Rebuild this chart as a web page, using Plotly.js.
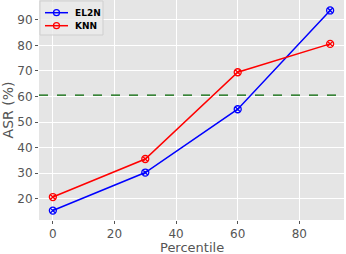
<!DOCTYPE html>
<html><head><meta charset="utf-8">
<script src="https://cdn.plot.ly/plotly-3.0.1.min.js"></script>
<style>html,body{margin:0;padding:0;background:#fff}#c{width:346px;height:254px}</style>
</head><body><div id="c"></div>
<script>
const percentiles = [0, 30, 60, 90];
const el2n = [15.3, 30.2, 55.0, 93.7];
const knn = [20.6, 35.5, 69.5, 80.6];
const threshold = 60.5;
const xTicks = [0, 20, 40, 60, 80];
const yTicks = [20, 30, 40, 50, 60, 70, 80, 90];
const seriesNames = ['EL2N', 'KNN'];
const seriesColors = ['blue', 'red'];

const W = 346, H = 254, ML = 39, MR = 2, MT = 0, MB = 34;
const PW = W - ML - MR, PH = H - MT - MB;
const px = v => (v - ML) / PW;
const py = v => 1 - (v - MT) / PH;

const traces = [el2n, knn].map((ys, i) => ({
  x: percentiles, y: ys, name: seriesNames[i], mode: 'lines+markers',
  line: {color: seriesColors[i], width: 1.5},
  marker: {symbol: 'circle-x-open', size: 7, color: seriesColors[i], line: {width: 1.3}}
}));

const shapes = [{type: 'line', xref: 'paper', x0: 0, x1: 1, yref: 'y', y0: threshold, y1: threshold,
                 line: {color: 'darkgreen', width: 1.2, dash: 'dash'}},
                {type: 'rect', xref: 'paper', yref: 'paper', x0: px(40), x1: px(103), y0: py(1), y1: py(35),
                 fillcolor: 'rgba(235,235,235,0.8)', line: {color: '#cfcfcf', width: 1}}];
const annotations = [{xref: 'paper', yref: 'paper', x: 0.5, y: py(247.5), xanchor: 'center', yanchor: 'middle',
                      text: 'Percentile', showarrow: false, font: {size: 13, color: '#555'}}];
seriesNames.forEach((n, i) => {
  const yy = 12.7 + i * 13;
  shapes.push({type: 'line', xref: 'paper', yref: 'paper', x0: px(45), x1: px(68), y0: py(yy), y1: py(yy),
               line: {color: seriesColors[i], width: 1.5}});
  shapes.push({type: 'circle', xref: 'paper', yref: 'paper', x0: px(53.5), x1: px(59.5), y0: py(yy - 3), y1: py(yy + 3),
               line: {color: seriesColors[i], width: 1.2}});
  annotations.push({xref: 'paper', yref: 'paper', x: px(73), y: py(yy), xanchor: 'left', yanchor: 'middle',
                    text: '<b>' + n + '</b>', showarrow: false, font: {size: 9, color: '#000'}});
});

const layout = {
  width: W, height: H,
  margin: {l: ML, r: MR, t: MT, b: MB},
  paper_bgcolor: '#fff', plot_bgcolor: '#E5E5E5',
  font: {family: 'DejaVu Sans', color: '#555', size: 12},
  xaxis: {range: [-4.5, 94.5], tickvals: xTicks, ticks: 'outside', ticklen: 3, tickcolor: '#555',
          gridcolor: '#fff', gridwidth: 1, zeroline: false, showline: false, automargin: false},
  yaxis: {range: [11.6, 97.8], tickvals: yTicks, ticks: 'outside', ticklen: 3, tickcolor: '#555',
          gridcolor: '#fff', gridwidth: 1, zeroline: false, showline: false, automargin: false,
          title: {text: 'ASR (%)', font: {size: 14, color: '#555'}, standoff: 3}},
  shapes: shapes, annotations: annotations,
  showlegend: false
};
Plotly.newPlot('c', traces, layout, {staticPlot: true});
</script></body></html>
